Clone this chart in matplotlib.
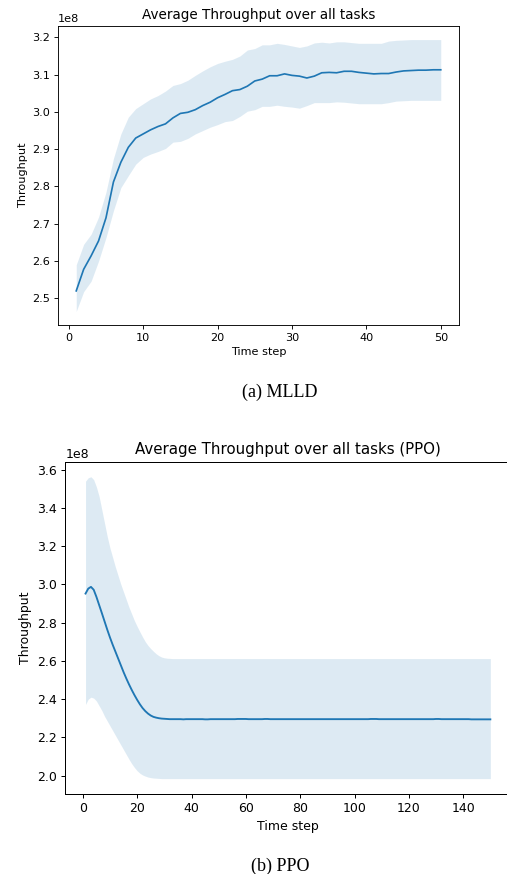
import matplotlib
matplotlib.use("Agg")
import matplotlib.pyplot as plt
import numpy as np

SCALE = 1e8

# ---------------- (a) MLLD ----------------
mlld_steps = list(range(1, 51))
mlld_mean = [
    2.520, 2.578, 2.614, 2.654, 2.716, 2.812, 2.865, 2.905, 2.930, 2.941,
    2.952, 2.961, 2.968, 2.984, 2.996, 2.999, 3.006, 3.017, 3.026, 3.038,
    3.047, 3.057, 3.060, 3.069, 3.083, 3.088, 3.097, 3.097, 3.102, 3.098,
    3.096, 3.091, 3.096, 3.105, 3.106, 3.105, 3.109, 3.109, 3.106, 3.104,
    3.102, 3.103, 3.103, 3.107, 3.110, 3.111, 3.112, 3.112, 3.113, 3.113,
]
mlld_upper = [
    2.590, 2.645, 2.672, 2.718, 2.785, 2.875, 2.941, 2.986, 3.009, 3.022,
    3.035, 3.044, 3.056, 3.071, 3.076, 3.085, 3.098, 3.110, 3.121, 3.130,
    3.136, 3.141, 3.150, 3.166, 3.170, 3.180, 3.180, 3.184, 3.181, 3.177,
    3.173, 3.177, 3.185, 3.187, 3.185, 3.188, 3.188, 3.186, 3.184, 3.184,
    3.184, 3.184, 3.190, 3.192, 3.193, 3.194, 3.194, 3.194, 3.194, 3.194,
]
mlld_lower = [
    2.465, 2.518, 2.546, 2.600, 2.663, 2.735, 2.797, 2.829, 2.860, 2.878,
    2.887, 2.894, 2.902, 2.919, 2.921, 2.929, 2.941, 2.950, 2.959, 2.966,
    2.974, 2.977, 2.988, 3.002, 3.006, 3.015, 3.015, 3.018, 3.015, 3.013,
    3.010, 3.017, 3.025, 3.025, 3.025, 3.027, 3.026, 3.024, 3.022, 3.022,
    3.022, 3.022, 3.025, 3.029, 3.030, 3.031, 3.031, 3.031, 3.031, 3.031,
]

# ---------------- (b) PPO ----------------
ppo_steps = list(range(1, 151))
ppo_mean = [
    2.952, 2.978, 2.987, 2.972, 2.935, 2.893, 2.850, 2.806, 2.763, 2.722,
    2.684, 2.648, 2.612, 2.576, 2.541, 2.508, 2.477, 2.448, 2.421, 2.396,
    2.373, 2.353, 2.337, 2.324, 2.314, 2.307, 2.303, 2.300, 2.298, 2.297,
    2.296, 2.295, 2.295, 2.295, 2.295, 2.295, 2.294, 2.295, 2.295, 2.295,
    2.295, 2.295, 2.295, 2.295, 2.294, 2.294, 2.295, 2.295, 2.295, 2.295,
    2.295, 2.295, 2.295, 2.295, 2.295, 2.295, 2.296, 2.296, 2.296, 2.296,
    2.295, 2.295, 2.295, 2.295, 2.295, 2.295, 2.296, 2.296, 2.295, 2.295,
    2.295, 2.295, 2.295, 2.295, 2.295, 2.295, 2.295, 2.295, 2.295, 2.295,
    2.295, 2.295, 2.295, 2.295, 2.295, 2.295, 2.295, 2.295, 2.295, 2.295,
    2.295, 2.295, 2.295, 2.295, 2.295, 2.295, 2.295, 2.295, 2.295, 2.295,
    2.295, 2.295, 2.295, 2.295, 2.295, 2.296, 2.296, 2.296, 2.295, 2.295,
    2.295, 2.295, 2.295, 2.295, 2.295, 2.295, 2.295, 2.295, 2.295, 2.295,
    2.295, 2.295, 2.295, 2.295, 2.295, 2.295, 2.295, 2.295, 2.295, 2.296,
    2.296, 2.295, 2.295, 2.295, 2.295, 2.295, 2.295, 2.295, 2.295, 2.295,
    2.295, 2.295, 2.294, 2.294, 2.294, 2.294, 2.294, 2.294, 2.294, 2.294,
]
ppo_upper = [
    3.540, 3.558, 3.563, 3.548, 3.510, 3.460, 3.390, 3.320, 3.250, 3.190,
    3.140, 3.090, 3.045, 3.000, 2.960, 2.920, 2.880, 2.845, 2.810, 2.780,
    2.752, 2.725, 2.700, 2.680, 2.664, 2.650, 2.637, 2.627, 2.620, 2.616,
    2.614, 2.613, 2.612, 2.612, 2.612, 2.612, 2.612, 2.612, 2.612, 2.612,
    2.612, 2.612, 2.612, 2.612, 2.612, 2.612, 2.612, 2.612, 2.612, 2.612,
    2.612, 2.612, 2.612, 2.612, 2.612, 2.612, 2.612, 2.612, 2.612, 2.612,
    2.612, 2.612, 2.612, 2.612, 2.612, 2.612, 2.612, 2.612, 2.612, 2.612,
    2.612, 2.612, 2.612, 2.612, 2.612, 2.612, 2.612, 2.612, 2.612, 2.612,
    2.612, 2.612, 2.612, 2.612, 2.612, 2.612, 2.612, 2.612, 2.612, 2.612,
    2.612, 2.612, 2.612, 2.612, 2.612, 2.612, 2.612, 2.612, 2.612, 2.612,
    2.612, 2.612, 2.612, 2.612, 2.612, 2.612, 2.612, 2.612, 2.612, 2.612,
    2.612, 2.612, 2.612, 2.612, 2.612, 2.612, 2.612, 2.612, 2.612, 2.612,
    2.612, 2.612, 2.612, 2.612, 2.612, 2.612, 2.612, 2.612, 2.612, 2.612,
    2.612, 2.612, 2.612, 2.612, 2.612, 2.612, 2.612, 2.612, 2.612, 2.612,
    2.612, 2.612, 2.612, 2.612, 2.612, 2.612, 2.612, 2.612, 2.612, 2.612,
]
ppo_lower = [
    2.372, 2.400, 2.410, 2.405, 2.390, 2.365, 2.340, 2.310, 2.285, 2.260,
    2.235, 2.210, 2.185, 2.160, 2.135, 2.110, 2.085, 2.062, 2.042, 2.025,
    2.012, 2.003, 1.997, 1.992, 1.989, 1.987, 1.986, 1.985, 1.984, 1.984,
    1.984, 1.984, 1.984, 1.984, 1.984, 1.984, 1.984, 1.984, 1.984, 1.984,
    1.984, 1.984, 1.984, 1.984, 1.984, 1.984, 1.984, 1.984, 1.984, 1.984,
    1.984, 1.984, 1.984, 1.984, 1.984, 1.984, 1.984, 1.984, 1.984, 1.984,
    1.984, 1.984, 1.984, 1.984, 1.984, 1.984, 1.984, 1.984, 1.984, 1.984,
    1.984, 1.984, 1.984, 1.984, 1.984, 1.984, 1.984, 1.984, 1.984, 1.984,
    1.984, 1.984, 1.984, 1.984, 1.984, 1.984, 1.984, 1.984, 1.984, 1.984,
    1.984, 1.984, 1.984, 1.984, 1.984, 1.984, 1.984, 1.984, 1.984, 1.984,
    1.984, 1.984, 1.984, 1.984, 1.984, 1.984, 1.984, 1.984, 1.984, 1.984,
    1.984, 1.984, 1.984, 1.984, 1.984, 1.984, 1.984, 1.984, 1.984, 1.984,
    1.984, 1.984, 1.984, 1.984, 1.984, 1.984, 1.984, 1.984, 1.984, 1.984,
    1.984, 1.984, 1.984, 1.984, 1.984, 1.984, 1.984, 1.984, 1.984, 1.984,
    1.984, 1.984, 1.984, 1.984, 1.984, 1.984, 1.984, 1.984, 1.984, 1.984,
]

titles = ["Average Throughput over all tasks", "Average Throughput over all tasks (PPO)"]
captions = ["(a) MLLD", "(b) PPO"]
xlabel = "Time step"
ylabel = "Throughput"

BLUE = "#1f77b4"
W, H = 507, 874
fig = plt.figure(figsize=(W / 100, H / 100), dpi=100)


def make_axes(rect_px, s):
    l, t, r, b = rect_px
    ax = fig.add_axes([l / W, (H - b) / H, (r - l) / W, (b - t) / H])
    for sp in ax.spines.values():
        sp.set_linewidth(0.8 * s)
    ax.tick_params(labelsize=10 * s, width=0.8 * s, length=3.5 * s, pad=3.5 * s)
    ax.yaxis.get_offset_text().set_fontsize(10 * s)
    return ax


def draw(ax, steps, mean, lower, upper, s, title):
    x = np.array(steps)
    ax.fill_between(x, np.array(lower) * SCALE, np.array(upper) * SCALE,
                    color=BLUE, alpha=0.15, linewidth=0)
    ax.plot(x, np.array(mean) * SCALE, color=BLUE, linewidth=1.5 * s)
    ax.set_title(title, fontsize=12 * s, pad=6 * s)
    ax.set_xlabel(xlabel, fontsize=10 * s, labelpad=4 * s)
    ax.set_ylabel(ylabel, fontsize=10 * s, labelpad=4 * s)


s1 = 0.81
ax1 = make_axes((58, 26, 459, 325), s1)
draw(ax1, mlld_steps, mlld_mean, mlld_lower, mlld_upper, s1, titles[0])
ax1.set_yticks([2.5e8, 2.6e8, 2.7e8, 2.8e8, 2.9e8, 3.0e8, 3.1e8, 3.2e8])

s2 = 0.898
ax2 = make_axes((65.3, 461.7, 510.6, 793.7), s2)
draw(ax2, ppo_steps, ppo_mean, ppo_lower, ppo_upper, s2, titles[1])
ax2.set_xlim(-6.45, 157.45)
ax2.set_xticks([0, 20, 40, 60, 80, 100, 120, 140])
# the right edge of this panel lies outside the cropped picture
ax2.spines["right"].set_visible(False)

serif = ["Liberation Serif", "DejaVu Serif"]
fig.text(280 / W, 1 - 392 / H, captions[0], ha="center", va="center",
         fontsize=13, family=serif)
fig.text(280 / W, 1 - 866 / H, captions[1], ha="center", va="center",
         fontsize=13, family=serif)

fig.savefig("out.png", dpi=100)
